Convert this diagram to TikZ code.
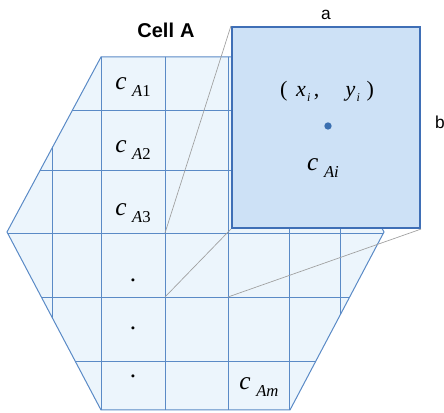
\documentclass[tikz,border=0pt]{standalone}
\usepackage{fontspec}
\setmainfont{Liberation Serif}
\newfontfamily\labelfont{Liberation Sans}
\usetikzlibrary{positioning}
\definecolor{gridblue}{HTML}{5A8AC6}
\definecolor{hexfill}{HTML}{ECF5FC}
\definecolor{boxfill}{HTML}{CDE1F6}
\definecolor{boxblue}{HTML}{3F6FB6}
\definecolor{dotblue}{HTML}{3A6FB0}
\newcommand{\cname}[1]{\textit{c}\hspace{0.22em}\raisebox{-0.6ex}{\fontsize{12.5}{14}\selectfont #1}}

\begin{document}
\begin{tikzpicture}[x=0.75pt, y=-0.75pt,
		hexline/.style = {draw=gridblue, line width=0.75pt},
		gridline/.style = {draw=gridblue, line width=0.7pt},
		zoombox/.style = {rectangle, draw=boxblue, fill=boxfill, line width=1.6pt, minimum width=141pt, minimum height=150.75pt, inner sep=0pt},
		zoomline/.style = {draw=gray!75, line width=0.5pt},
		lbl/.style = {font=\labelfont\fontsize{13}{15}\selectfont, inner sep=0pt},
		cellname/.style = {font=\fontsize{19}{22}\selectfont, inner sep=0pt}
		]
		\useasboundingbox (0,0) rectangle (444,413);
		
		%Hexagon
		\coordinate	(h1)	at	(101,57);
		\coordinate	(h2)	at	(290,57);
		\coordinate	(h3)	at	(384,232);
		\coordinate	(h4)	at	(290,410);
		\coordinate	(h5)	at	(101,410);
		\coordinate	(h6)	at	(7,232);
		\fill[hexfill]	(h1) -- (h2) -- (h3) -- (h4) -- (h5) -- (h6) -- cycle;
		\begin{scope}
			\clip	(h1) -- (h2) -- (h3) -- (h4) -- (h5) -- (h6) -- cycle;
			\foreach \x in {52,101,165,228,289,340}
				\draw[gridline]	(\x,0) -- (\x,413);
			\foreach \y in {110,170,233,297,361}
				\draw[gridline]	(0,\y) -- (444,\y);
		\end{scope}
		\draw[hexline]	(h1) -- (h2) -- (h3) -- (h4) -- (h5) -- (h6) -- cycle;
		
		%Zoomed cell
		\coordinate	(cnw)	at	(165,233);
		\coordinate	(csw)	at	(165,297);
		\coordinate	(cse)	at	(228,297);
		
		%Nodes
		\node[lbl, font=\labelfont\bfseries\fontsize{15}{17}\selectfont]	(title)	at	(166,30)	{Cell\hspace{0.3em}A};
		\node[cellname]	(c1)	at	(133,87)	{\cname{\textit{A}1}};
		\node[cellname]	(c2)	at	(133,150)	{\cname{\textit{A}2}};
		\node[cellname]	(c3)	at	(133,213)	{\cname{\textit{A}3}};
		\node[cellname]	(d1)	at	(133,280)	{.};
		\node[cellname]	(d2)	at	(133,328)	{.};
		\node[cellname]	(d3)	at	(133,376)	{.};
		\node[cellname]	(cm)	at	(259,387)	{\cname{\textit{Am}}};
		
		\node[zoombox]	(zoom)	at	(326,127.5)	{};
		\node[cellname, font=\fontsize{16.5}{19}\selectfont]	(xy)	at	(327,91)	{(\hspace{0.4em}\textit{x}\raisebox{-0.5ex}{\fontsize{9}{10}\selectfont\hspace{0.1em}\textit{i}}\hspace{0.15em},\hspace{1.2em}\textit{y}\raisebox{-0.5ex}{\fontsize{9}{10}\selectfont\hspace{0.1em}\textit{i}}\hspace{0.3em})};
		\node[circle, fill=dotblue, inner sep=0pt, minimum size=5.5pt]	(pt)	at	(328,126)	{};
		\node[cellname]	(ci)	at	(323,168)	{\cname{\textit{Ai}}};
		\node[lbl]	(a)	at	(326,15)	{a};
		\node[lbl]	(b)	at	(440,122)	{b};
		
		%Lines
		\draw[zoomline]	(zoom.north west)	--	(cnw);
		\draw[zoomline]	(zoom.south west)	--	(csw);
		\draw[zoomline]	(zoom.south east)	--	(cse);
	\end{tikzpicture}
\end{document}
